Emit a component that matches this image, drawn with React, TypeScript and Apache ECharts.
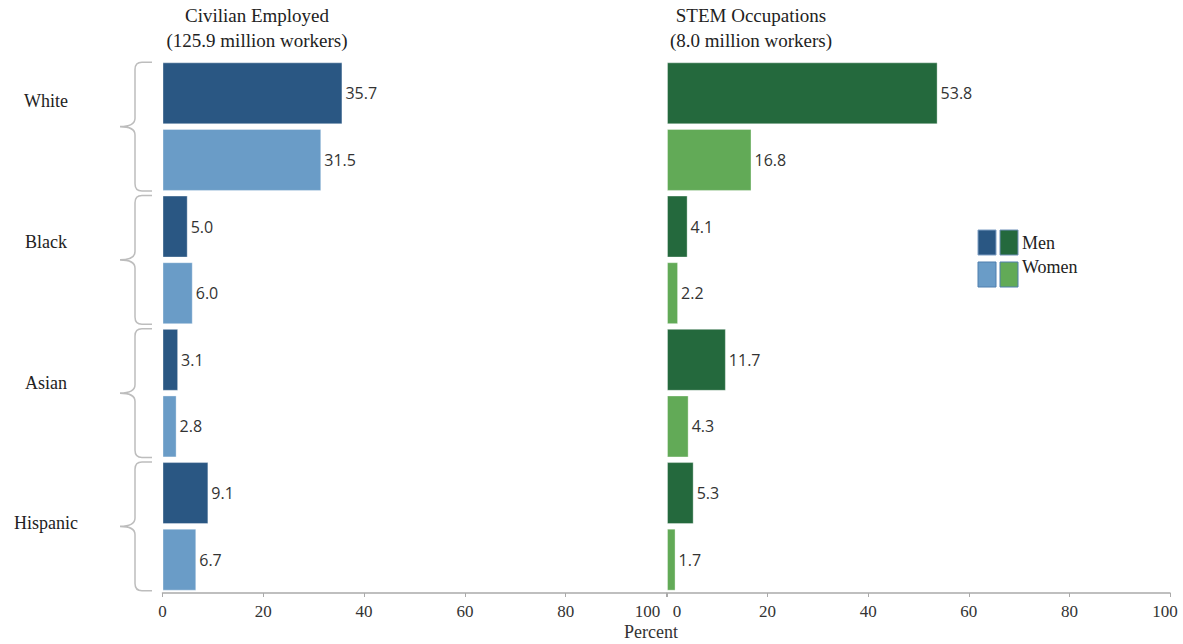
import React, { useEffect, useRef } from "react";
import * as echarts from "echarts";

const groups = ["White", "Black", "Asian", "Hispanic"];
const civilianMen = [35.7, 5.0, 3.1, 9.1];
const civilianWomen = [31.5, 6.0, 2.8, 6.7];
const stemMen = [53.8, 4.1, 11.7, 5.3];
const stemWomen = [16.8, 2.2, 4.3, 1.7];

const leftTitle = "Civilian Employed\n(125.9 million workers)";
const rightTitle = "STEM Occupations\n(8.0 million workers)";
const legendNames = ["Men", "Women"];
const axisName = "Percent";

const COLORS = {
  civMen: "#2A5783",
  civWomen: "#6A9CC7",
  stemMen: "#24693D",
  stemWomen: "#62AA57",
};

const SERIF = "'Liberation Serif', 'Times New Roman', serif";
const SANS = "'Open Sans', 'Noto Sans', sans-serif";

const BRACE =
  "M32,-62 L22,-62 Q15,-62 15,-55 L15,-8 Q15,0 0,0 Q15,0 15,8 L15,55 Q15,62 22,62 L32,62";

let registered = false;

export default function App() {
  const ref = useRef<HTMLDivElement>(null);

  useEffect(() => {
    if (!ref.current) return;
    if (!registered) {
      echarts.graphic.registerShape("brace", echarts.graphic.extendPath(BRACE, {}));
      registered = true;
    }
    const chart = echarts.init(ref.current, null, { renderer: "svg" });

    const rows: string[] = [];
    groups.forEach((g) => {
      rows.push(g + " Men");
      rows.push(g + " Women");
    });

    const interleave = (men: number[], women: number[], cm: string, cw: string) => {
      const out: any[] = [];
      men.forEach((v, i) => {
        out.push({ value: v, itemStyle: { color: cm } });
        out.push({ value: women[i], itemStyle: { color: cw } });
      });
      return out;
    };

    const labelLift = [26, 18, 10, 3];
    const groupRich: any = {};
    labelLift.forEach((l, i) => {
      groupRich["g" + i] = {
        fontFamily: SERIF,
        fontSize: 18,
        color: "#222",
        padding: [0, 0, l * 2, 0],
      };
    });

    const xLabelBase = {
      fontFamily: SERIF,
      fontSize: 17,
      color: "#333",
      margin: 10,
    };

    const xAxisCommon = {
      type: "value",
      min: 0,
      max: 100,
      interval: 20,
      splitLine: { show: false },
      axisLine: { show: true, lineStyle: { color: "#aaaaaa", width: 1.5 } },
      axisTick: { show: true, length: 4, lineStyle: { color: "#aaaaaa" } },
    };

    const barLabel = {
      show: true,
      position: "right",
      distance: 3,
      fontFamily: SANS,
      fontSize: 16,
      color: "#333",
      formatter: (p: any) => Number(p.value).toFixed(1),
    };

    const titleStyle = {
      fontFamily: SERIF,
      fontSize: 19,
      fontWeight: "normal",
      color: "#222",
      lineHeight: 25,
    };

    const option: any = {
      animation: false,
      backgroundColor: "#ffffff",
      title: [
        { text: leftTitle, left: 252, top: -2, textAlign: "center", textStyle: titleStyle },
        { text: rightTitle, left: 746, top: -2, textAlign: "center", textStyle: titleStyle },
      ],
      grid: [
        { left: 162.5, width: 504, top: 60, height: 533, outerBoundsMode: "none", containLabel: false },
        { left: 667, width: 503, top: 60, height: 533, outerBoundsMode: "none", containLabel: false },
      ],
      xAxis: [
        {
          ...xAxisCommon,
          gridIndex: 0,
          axisLabel: {
            ...xLabelBase,
            formatter: (v: number) => (v === 100 ? "{l|" + v + "}" : String(v)),
            rich: { l: { fontFamily: SERIF, fontSize: 17, color: "#333", padding: [0, 38, 0, 0] } },
          },
        },
        {
          ...xAxisCommon,
          gridIndex: 1,
          axisLabel: {
            ...xLabelBase,
            formatter: (v: number) =>
              v === 0 ? "{r|" + v + "}" : v === 100 ? "{e|" + v + "}" : String(v),
            rich: {
              r: { fontFamily: SERIF, fontSize: 17, color: "#333", padding: [0, 0, 0, 20] },
              e: { fontFamily: SERIF, fontSize: 17, color: "#333", padding: [0, 10, 0, 0] },
            },
          },
        },
      ],
      yAxis: [
        { type: "category", gridIndex: 0, data: rows, inverse: true, show: false },
        { type: "category", gridIndex: 1, data: rows, inverse: true, show: false },
        {
          type: "category",
          gridIndex: 0,
          position: "left",
          inverse: true,
          data: groups,
          axisLine: { show: false },
          axisTick: { show: false },
          splitLine: { show: false },
          axisLabel: {
            fontFamily: SERIF,
            fontSize: 18,
            color: "#222",
            align: "center",
            margin: 116.5,
            formatter: (v: string, i: number) => "{g" + i + "|" + v + "}",
            rich: groupRich,
          },
        },
      ],
      series: [
        {
          type: "bar",
          xAxisIndex: 0,
          yAxisIndex: 0,
          data: interleave(civilianMen, civilianWomen, COLORS.civMen, COLORS.civWomen),
          barCategoryGap: "7%",
          itemStyle: { borderColor: "rgba(255,255,255,0.35)", borderWidth: 1 },
          label: barLabel,
        },
        {
          type: "bar",
          xAxisIndex: 1,
          yAxisIndex: 1,
          data: interleave(stemMen, stemWomen, COLORS.stemMen, COLORS.stemWomen),
          barCategoryGap: "7%",
          itemStyle: { borderColor: "rgba(255,255,255,0.35)", borderWidth: 1 },
          label: barLabel,
        },
      ],
      graphic: [
        {
          type: "text",
          x: 651,
          y: 632,
          style: {
            text: axisName,
            fontFamily: SERIF,
            fontSize: 18,
            fill: "#333",
            align: "center",
            verticalAlign: "middle",
          },
        },
        { type: "rect", shape: { x: 978, y: 230, width: 18, height: 25 }, style: { fill: COLORS.civMen, stroke: "#7f9fc4", lineWidth: 1 } },
        { type: "rect", shape: { x: 1000, y: 230, width: 18, height: 25 }, style: { fill: COLORS.stemMen, stroke: "#6f90b8", lineWidth: 1 } },
        { type: "rect", shape: { x: 978, y: 262, width: 18, height: 25 }, style: { fill: COLORS.civWomen, stroke: "#4f7fae", lineWidth: 1 } },
        { type: "rect", shape: { x: 1000, y: 262, width: 18, height: 25 }, style: { fill: COLORS.stemWomen, stroke: "#4f7fae", lineWidth: 1 } },
        {
          type: "text",
          x: 1022,
          y: 243,
          style: { text: legendNames[0], fontFamily: SERIF, fontSize: 18, fill: "#222", verticalAlign: "middle" },
        },
        {
          type: "text",
          x: 1022,
          y: 267,
          style: { text: legendNames[1], fontFamily: SERIF, fontSize: 18, fill: "#222", verticalAlign: "middle" },
        },
      ],
    };

    chart.setOption(option);

    // Place the group braces using the category scale of the bar axis
    const braces = groups.map((g, i) => {
      const yTop = chart.convertToPixel({ yAxisIndex: 0 }, rows[i * 2]) as number;
      const yBot = chart.convertToPixel({ yAxisIndex: 0 }, rows[i * 2 + 1]) as number;
      const mid = (yTop + yBot) / 2;
      return {
        type: "brace",
        x: 120,
        y: mid,
        scaleY: (yBot - yTop + 62) / 124,
        style: { fill: "none", stroke: "#bdbdbd", lineWidth: 1.5 },
        silent: true,
      };
    });
    chart.setOption({ graphic: [...option.graphic, ...braces] }, { replaceMerge: ["graphic"] });

    return () => chart.dispose();
  }, []);

  return (
    <div
      ref={ref}
      style={{ position: "fixed", left: 0, top: 0, width: 1183, height: 644, background: "#fff" }}
    />
  );
}
